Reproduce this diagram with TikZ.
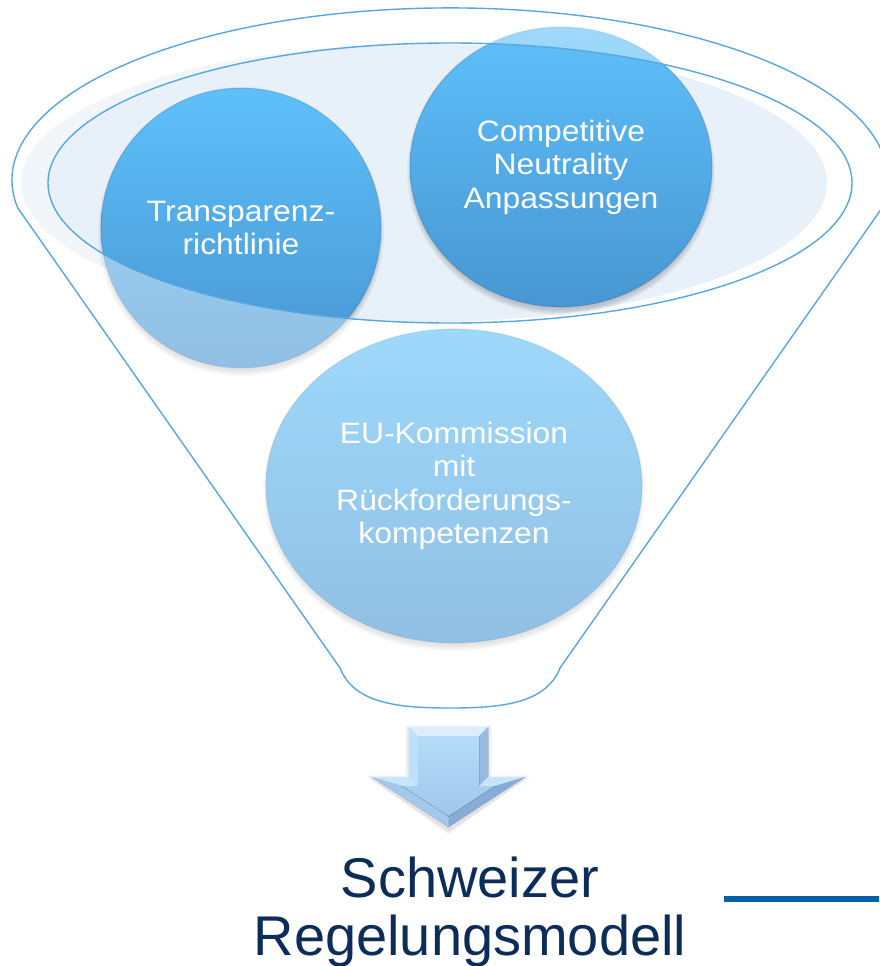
\documentclass[tikz,border=0pt]{standalone}
\usepackage{fontspec}
\setmainfont{Liberation Sans}
\newfontfamily\orbfont[FakeStretch=1.08]{Liberation Sans}
\usetikzlibrary{shapes.geometric}

\definecolor{rim}{RGB}{88,166,226}
\definecolor{orbtop}{RGB}{94,192,250}
\definecolor{orbbot}{RGB}{72,150,210}
\definecolor{mouth}{RGB}{232,240,249}
\definecolor{navy}{RGB}{12,45,90}
\definecolor{barblue}{RGB}{0,96,166}
\definecolor{arrface}{RGB}{178,216,247}
\definecolor{arrfaceb}{RGB}{156,194,230}

% outline of the funnel: upper rim arc, two sides and the rounded spout
\def\funnelpath{(882,208) arc[start angle=9.4, end angle=-189.4, x radius=438, y radius=172]
  -- (340,668) .. controls (354,704) and (400,708) .. (450,708)
  .. controls (500,708) and (546,704) .. (560,668) -- cycle}

% soft shadow under a ball
\newcommand\orbshadow[4]{%
  \foreach \k in {0,...,5}{%
    \fill[black,opacity=0.03] (#1,#2+5) ellipse ({#3-2+\k} and {#4-2+\k});}}

\tikzset{
  orb/.style={ellipse, inner sep=0pt, top color=orbtop, bottom color=orbbot,
    draw=orbbot!70!black, draw opacity=0.25, line width=1.2pt, text=white,
    font=\orbfont\fontsize{29.5}{33.5}\selectfont, align=center},
  funnelline/.style={draw=rim, line width=1.4pt},
  label/.style={text=navy, font=\fontsize{56}{58}\selectfont, anchor=base, inner sep=0pt}
}

\begin{document}
\begin{tikzpicture}[x=1pt,y=-1pt]
\useasboundingbox (0,0) rectangle (879,966);

% opening of the funnel
\fill[mouth] (424,183) ellipse (403 and 139);

% balls
\orbshadow{241}{228}{140}{140}
\orbshadow{561}{167}{151}{140}
\orbshadow{454}{486}{188}{157}
\node[orb, minimum width=280pt, minimum height=280pt] (tr) at (241,228) {Transparenz-\\richtlinie};
\node[orb, minimum width=302pt, minimum height=280pt] (cn) at (561,167) {Competitive\\Neutrality\\Anpassungen};
\node[orb, minimum width=376pt, minimum height=314pt] (eu) at (454,486) {EU-Kommission\\mit\\Rückforderungs-\\kompetenzen};

% translucent body of the funnel, leaving the opening clear
\fill[white, fill opacity=0.4, even odd rule] \funnelpath (450,183) ellipse (402 and 140);

% funnel outlines
\draw[funnelline] \funnelpath;
\draw[funnelline] (450,183) ellipse (402 and 140);

% bevelled arrow pointing down
\foreach \k in {0,...,4}{
  \fill[black,opacity=0.025] (409-\k,729-\k) -- (488+\k,729-\k) -- (488+\k,779-\k) -- (527+\k,779-\k)
    -- (448.5,831+\k) -- (370-\k,779-\k) -- (409-\k,779-\k) -- cycle;}
\fill[top color=arrface, bottom color=arrfaceb]
  (409,727) -- (488,727) -- (488,777) -- (525,777) -- (448.5,827) -- (372,777) -- (409,777) -- cycle;
% bevel facets
\fill[color={rgb,255:red,218;green,239;blue,253}] (409,727) -- (488,727) -- (479,736) -- (418,736) -- cycle;
\fill[color={rgb,255:red,190;green,224;blue,250}] (409,727) -- (418,736) -- (418,786) -- (409,777) -- cycle;
\fill[color={rgb,255:red,150;green,186;blue,224}] (488,727) -- (479,736) -- (479,786) -- (488,777) -- cycle;
\fill[color={rgb,255:red,200;green,230;blue,251}] (409,777) -- (418,786) -- (402.2,786) -- (372,777) -- cycle;
\fill[color={rgb,255:red,200;green,230;blue,251}] (488,777) -- (525,777) -- (494.8,786) -- (479,786) -- cycle;
\fill[color={rgb,255:red,164;green,200;blue,236}] (372,777) -- (402.2,786) -- (448.5,816.3) -- (448.5,827) -- cycle;
\fill[color={rgb,255:red,136;green,172;blue,214}] (525,777) -- (494.8,786) -- (448.5,816.3) -- (448.5,827) -- cycle;
\fill[top color={rgb,255:red,182;green,220;blue,250}, bottom color={rgb,255:red,160;green,198;blue,234}]
  (418,736) -- (479,736) -- (479,786) -- (494.8,786) -- (448.5,816.3) -- (402.2,786) -- (418,786) -- cycle;

% result
\node[label] (sw) at (470,897) {Schweizer};
\node[label] (rm) at (470,955) {Regelungsmodell};

% rule at the lower right
\draw[barblue, line width=6pt] (724,899) -- (879,899);
\end{tikzpicture}
\end{document}
